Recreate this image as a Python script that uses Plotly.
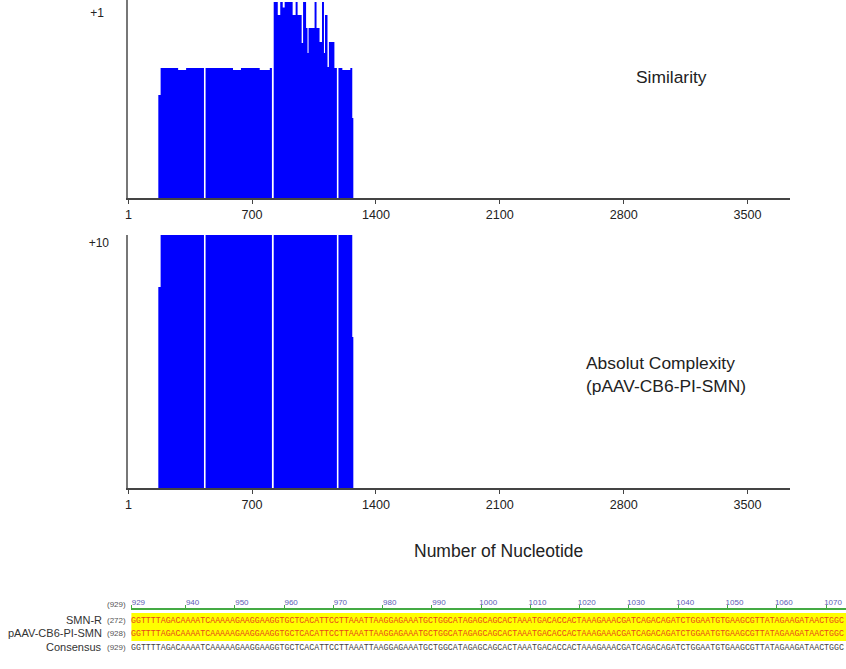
import plotly.graph_objects as go

W, H = 846, 669

# ---------------- data ----------------
# Similarity profile (step segments: start position in nt, value)
sim_pos = [1, 170, 183, 282, 327, 428, 437, 592, 637, 743, 800, 812, 822, 845, 859,
           873, 884, 929, 946, 957, 980, 988, 1005, 1013, 1019, 1053, 1064, 1081,
           1095, 1106, 1112, 1126, 1134, 1165, 1179, 1188, 1210, 1255, 1266, 1272, 3741]
sim_val = [0, 0.557, 0.703, 0.692, 0.703, 0, 0.703, 0.692, 0.703, 0.692, 0.703, 0,
           1.06, 0.989, 1.06, 1.03, 1.06, 0.989, 1.06, 0.989, 0.838, 1.06, 0.919,
           0.784, 0.919, 1.06, 0.919, 0.843, 1.06, 0.784, 0.989, 0.708, 0.843,
           0.703, 0, 0.703, 0.692, 0.703, 0.432, 0, 0]

# Absolute complexity profile
cx_pos = [1, 170, 183, 428, 437, 812, 822, 1179, 1188, 1266, 1272, 3741]
cx_val = [0, 8.2, 10.4, 0, 10.4, 0, 10.4, 0, 10.4, 6.16, 0, 0]

x_tickvals = [1, 700, 1400, 2100, 2800, 3500]
x_ticktext = ["1", "700", "1400", "2100", "2800", "3500"]

# Alignment block
ruler_ticks = [929, 940, 950, 960, 970, 980, 990, 1000, 1010, 1020, 1030, 1040, 1050, 1060, 1070]
row_names = ["SMN-R", "pAAV-CB6-PI-SMN", "Consensus"]
row_starts = ["(272)", "(928)", "(929)"]
ruler_start = "(929)"
sequence = ("GGTTTTAGACAAAATCAAAAAGAAGGAAGGTGCTCACATTCCTTAAATTAAGGAGAAATG"
            "CTGGCATAGAGCAGCACTAAATGACACCACTAAAGAAACGATCAGACAGATCTGGAATGT"
            "GAAGCGTTATAGAAGATAACTGGC")

# ---------------- helpers ----------------
def py(p):
    return 1 - p / H

def pxx(p):
    return p / W

SANS = "Liberation Sans, Arial, sans-serif"
MONO = "Liberation Mono, DejaVu Sans Mono, monospace"
BLUE = "#0000ff"

fig = go.Figure()
fig.add_trace(go.Scatter(x=sim_pos, y=sim_val, mode="lines",
                         line=dict(width=0, shape="hv"), fill="tozeroy",
                         fillcolor=BLUE, xaxis="x", yaxis="y", hoverinfo="skip"))
fig.add_trace(go.Scatter(x=cx_pos, y=cx_val, mode="lines",
                         line=dict(width=0, shape="hv"), fill="tozeroy",
                         fillcolor=BLUE, xaxis="x2", yaxis="y2", hoverinfo="skip"))
fig.add_trace(go.Scatter(x=ruler_ticks, y=[0] * len(ruler_ticks), mode="markers",
                         marker=dict(opacity=0), xaxis="x3", yaxis="y3", hoverinfo="skip"))

xcommon = dict(domain=[pxx(125), pxx(790)], range=[1, 3741], tickvals=x_tickvals,
               ticktext=x_ticktext, showline=True, linecolor="#444", linewidth=1.5,
               ticks="outside", ticklen=4, tickwidth=1.2, tickcolor="#444",
               showgrid=False, zeroline=False,
               tickfont=dict(family=SANS, size=12.6, color="#222"))

fig.update_layout(
    width=W, height=H, margin=dict(l=0, r=0, t=0, b=0),
    paper_bgcolor="white", plot_bgcolor="white", showlegend=False,
    xaxis=dict(anchor="y", **xcommon),
    xaxis2=dict(anchor="y2", **xcommon),
    yaxis=dict(anchor="x", domain=[py(198), 1], range=[0, 198 / 185],
               tickvals=[1], ticktext=["+1"], showline=True, linecolor="#777",
               linewidth=2, ticks="", showgrid=False, zeroline=False,
               ticklabelstandoff=20,
               tickfont=dict(family=SANS, size=12, color="#222")),
    yaxis2=dict(anchor="x2", domain=[py(488), py(235)], range=[0, 253 / 24.5],
                tickvals=[10], ticktext=["+10"], showline=True, linecolor="#777",
                linewidth=2, ticks="", showgrid=False, zeroline=False,
                ticklabelstandoff=15,
                tickfont=dict(family=SANS, size=12, color="#222")),
    xaxis3=dict(anchor="y3", domain=[pxx(128), 1], side="top",
                range=[929, 929 + 718 / 4.95], tickvals=ruler_ticks,
                ticktext=[str(t) for t in ruler_ticks],
                showline=True, linecolor="#44aa44", linewidth=1.5,
                ticks="outside", ticklen=3, tickwidth=1, tickcolor="#44aa44",
                ticklabelshift=7, ticklabelstandoff=-3,
                showgrid=False, zeroline=False,
                tickfont=dict(family=SANS, size=8, color="#5b5bb5")),
    yaxis3=dict(anchor="x3", domain=[py(655), py(610)], range=[0, 1], visible=False),
)

# yellow highlight behind the two aligned rows
fig.add_shape(type="rect", xref="paper", yref="paper", x0=pxx(128), x1=1,
              y0=py(641), y1=py(613), fillcolor="#ffff00", line=dict(width=0),
              layer="below")

ann = []
ann.append(dict(text="Similarity", x=pxx(671), y=py(77), xanchor="center",
                yanchor="middle", font=dict(family=SANS, size=17.4, color="#222")))
ann.append(dict(text="Absolut Complexity<br>(pAAV-CB6-PI-SMN)", x=pxx(583), y=py(375),
                xanchor="left", yanchor="middle", align="left",
                font=dict(family=SANS, size=17.4, color="#222")))
ann.append(dict(text="Number of Nucleotide", x=pxx(497), y=py(551), xanchor="center",
                yanchor="middle", font=dict(family=SANS, size=17.5, color="#222")))

# alignment rows
row_y = [620, 633, 647]
row_colors = ["#e8481c", "#e8481c", "#444"]
ann.append(dict(text=ruler_start, x=pxx(125), y=py(604), xanchor="right", yanchor="middle",
                font=dict(family=SANS, size=8, color="#555")))
for name, st, yy, col in zip(row_names, row_starts, row_y, row_colors):
    ann.append(dict(text=name, x=pxx(100), y=py(yy), xanchor="right", yanchor="middle",
                    font=dict(family=SANS, size=11, color="#333")))
    ann.append(dict(text=st, x=pxx(125), y=py(yy), xanchor="right", yanchor="middle",
                    font=dict(family=SANS, size=8, color="#555")))
    ann.append(dict(text=sequence, x=pxx(128), y=py(yy), xanchor="left", yanchor="middle",
                    borderpad=0, borderwidth=0,
                    font=dict(family=MONO, size=8.25, color=col)))

for a in ann:
    a.setdefault("xref", "paper")
    a.setdefault("yref", "paper")
    a.setdefault("showarrow", False)
fig.update_layout(annotations=ann)

# remove the browser's default 8px body margin so the figure sits at the page corner
fig.write_html("out.html", config={"displayModeBar": False},
               post_script="document.body.style.margin='0';")
